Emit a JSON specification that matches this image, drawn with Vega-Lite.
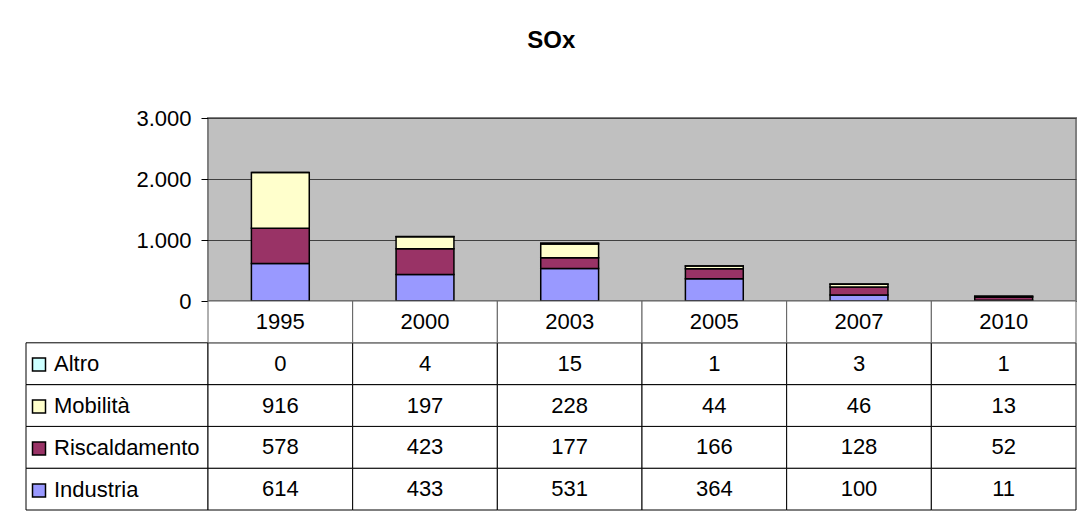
{
  "$schema": "https://vega.github.io/schema/vega-lite/v6.json",
  "padding": {"left": 25, "top": 29, "right": 0, "bottom": 0},
  "background": "white",
  "title": {"text": "SOx", "fontSize": 24, "fontWeight": "bold", "anchor": "middle", "frame": "bounds", "offset": 53, "color": "black", "font": "Liberation Sans"},
  "datasets": {
    "sox": [
      {"year": "1995", "series": "Industria", "value": 614},
      {"year": "1995", "series": "Riscaldamento", "value": 578},
      {"year": "1995", "series": "Mobilità", "value": 916},
      {"year": "1995", "series": "Altro", "value": 0},
      {"year": "2000", "series": "Industria", "value": 433},
      {"year": "2000", "series": "Riscaldamento", "value": 423},
      {"year": "2000", "series": "Mobilità", "value": 197},
      {"year": "2000", "series": "Altro", "value": 4},
      {"year": "2003", "series": "Industria", "value": 531},
      {"year": "2003", "series": "Riscaldamento", "value": 177},
      {"year": "2003", "series": "Mobilità", "value": 228},
      {"year": "2003", "series": "Altro", "value": 15},
      {"year": "2005", "series": "Industria", "value": 364},
      {"year": "2005", "series": "Riscaldamento", "value": 166},
      {"year": "2005", "series": "Mobilità", "value": 44},
      {"year": "2005", "series": "Altro", "value": 1},
      {"year": "2007", "series": "Industria", "value": 100},
      {"year": "2007", "series": "Riscaldamento", "value": 128},
      {"year": "2007", "series": "Mobilità", "value": 46},
      {"year": "2007", "series": "Altro", "value": 3},
      {"year": "2010", "series": "Industria", "value": 11},
      {"year": "2010", "series": "Riscaldamento", "value": 52},
      {"year": "2010", "series": "Mobilità", "value": 13},
      {"year": "2010", "series": "Altro", "value": 1}
    ]
  },
  "columns": 2,
  "spacing": 0,
  "bounds": "flush",
  "align": "each",
  "concat": [
    {
      "width": 182,
      "height": 183,
      "data": {"values": []},
      "mark": {"type": "point", "opacity": 0},
      "encoding": {}
    },
    {
      "width": 868,
      "height": 183,
      "view": {"fill": "#C0C0C0", "stroke": "#808080", "strokeWidth": 2},
      "data": {"name": "sox"},
      "transform": [{"calculate": "indexof(['Industria','Riscaldamento','Mobilità','Altro'], datum.series)", "as": "stackOrder"}],
      "mark": {"type": "bar", "stroke": "black", "strokeWidth": 1.5},
      "encoding": {
        "x": {"field": "year", "type": "ordinal", "scale": {"paddingInner": 0.6, "paddingOuter": 0.3}, "axis": null},
        "y": {
          "field": "value", "type": "quantitative", "stack": "zero",
          "scale": {"domain": [0, 3000]},
          "axis": {"values": [0, 1000, 2000, 3000], "format": ",d", "title": null, "domain": false, "grid": true, "gridColor": "#404040", "gridOpacity": 1, "tickColor": "black", "tickSize": 7, "labelFontSize": 22, "labelPadding": 10, "labelColor": "black", "labelFont": "Liberation Sans"}
        },
        "order": {"field": "stackOrder", "type": "quantitative", "sort": "ascending"},
        "color": {
          "field": "series", "type": "nominal",
          "scale": {"domain": ["Industria", "Riscaldamento", "Mobilità", "Altro"], "range": ["#9999FF", "#993366", "#FFFFCC", "#CCFFFF"]},
          "legend": {
            "values": ["Altro", "Mobilità", "Riscaldamento", "Industria"],
            "title": null, "orient": "none", "legendX": 2, "legendY": 225.5,
            "direction": "vertical", "padding": 0, "clipHeight": 41.8, "rowPadding": 0,
            "symbolType": "square", "symbolSize": 169, "symbolStrokeColor": "black", "symbolStrokeWidth": 1.5, "symbolOpacity": 1,
            "labelFontSize": 22, "labelColor": "black", "labelFont": "Liberation Sans", "labelOffset": 4, "labelLimit": 200
          }
        }
      }
    },
    {
      "width": 182,
      "height": 209,
      "data": {"name": "sox"},
      "transform": [{"aggregate": [{"op": "count", "as": "n"}], "groupby": ["series"]}],
      "mark": {"type": "rect", "fill": "white", "stroke": "black", "strokeWidth": 1},
      "encoding": {
        "y": {"field": "series", "type": "nominal", "scale": {"domain": ["Anno", "Altro", "Mobilità", "Riscaldamento", "Industria"], "paddingInner": 0, "paddingOuter": 0}, "axis": null}
      }
    },
    {
      "width": 868,
      "height": 209,
      "data": {"name": "sox"},
      "encoding": {
        "x": {"field": "year", "type": "ordinal", "scale": {"paddingInner": 0, "paddingOuter": 0}, "axis": null}
      },
      "layer": [
        {
          "mark": {"type": "rect", "fill": "white", "stroke": "black", "strokeWidth": 1},
          "encoding": {
            "y": {"field": "series", "type": "nominal", "scale": {"domain": ["Anno", "Altro", "Mobilità", "Riscaldamento", "Industria"], "paddingInner": 0, "paddingOuter": 0}, "axis": null}
          }
        },
        {
          "transform": [{"aggregate": [{"op": "count", "as": "n"}], "groupby": ["year"]}],
          "mark": {"type": "rect", "fill": "white", "stroke": "#606060", "strokeWidth": 1},
          "encoding": {"y": {"datum": "Anno", "type": "nominal"}}
        },
        {
          "mark": {"type": "text", "fontSize": 22, "font": "Liberation Sans", "color": "black"},
          "encoding": {
            "y": {"field": "series", "type": "nominal"},
            "text": {"field": "value", "type": "quantitative", "format": "d"}
          }
        },
        {
          "transform": [{"aggregate": [{"op": "count", "as": "n"}], "groupby": ["year"]}],
          "mark": {"type": "text", "fontSize": 22, "font": "Liberation Sans", "color": "black"},
          "encoding": {
            "y": {"datum": "Anno", "type": "nominal"},
            "text": {"field": "year", "type": "nominal"}
          }
        }
      ]
    }
  ],
  "config": {
    "font": "Liberation Sans",
    "view": {"stroke": null},
    "locale": {"number": {"decimal": ",", "thousands": ".", "grouping": [3], "currency": ["", " €"]}}
  }
}
